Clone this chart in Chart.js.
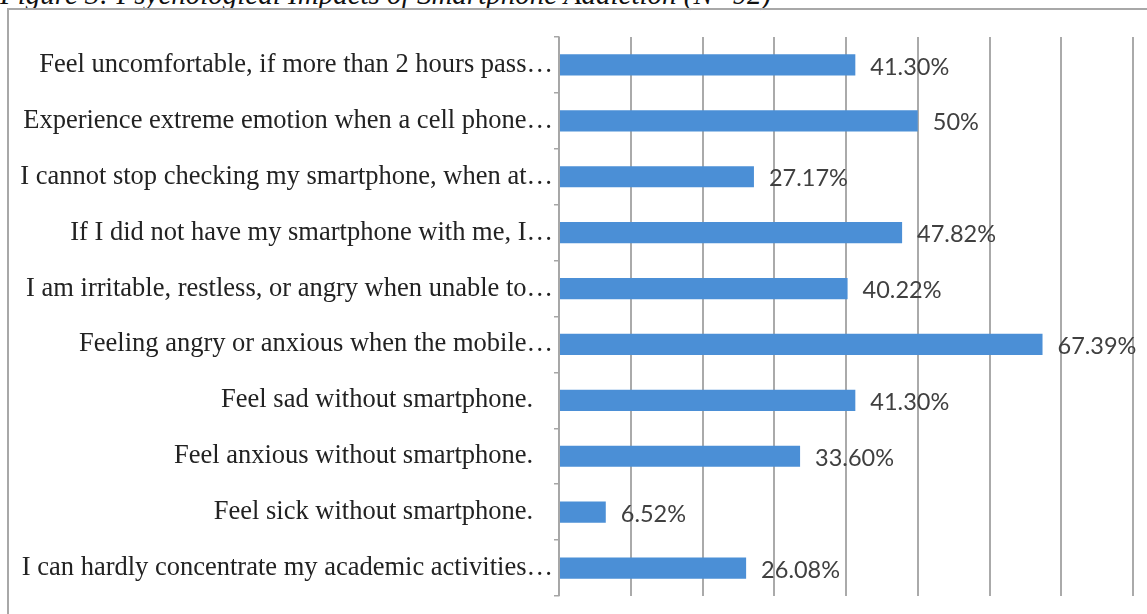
<!DOCTYPE html>
<html>
<head>
<meta charset="utf-8">
<script src="https://cdn.jsdelivr.net/npm/chart.js@4"></script>
<style>
  html, body { margin: 0; padding: 0; background: #fff; overflow: hidden; }
  #title {
    position: absolute; left: 0px; top: -20px;
    font: italic 29px/29px "Liberation Serif", "Times New Roman", serif;
    color: #111; white-space: nowrap;
  }
  #frame {
    position: absolute; left: 7px; top: 8px; width: 1160px; height: 700px;
    border: 2px solid #a8a8a8;
  }
  #chart { position: absolute; left: 0; top: 0; }
</style>
</head>
<body>
<div id="title">Figure 3: Psychological Impacts of Smartphone Addiction (N=92)</div>
<div id="frame"></div>
<canvas id="chart" width="1147" height="614"></canvas>
<script>
// statements as shown on the chart (Excel cut the long ones)
const categories = [
    "Feel uncomfortable, if more than 2 hours pass\u2026",
    "Experience extreme emotion when a cell phone\u2026",
    "I cannot stop checking my smartphone, when at\u2026",
    "If I did not have my smartphone with me, I\u2026",
    "I am irritable, restless, or angry when unable to\u2026",
    "Feeling angry or anxious when the mobile\u2026",
    "Feel sad without smartphone.",
    "Feel anxious without smartphone.",
    "Feel sick without smartphone.",
    "I can hardly concentrate my academic activities\u2026"
];
const percentages = [41.30, 50, 27.17, 47.82, 40.22, 67.39, 41.30, 33.60, 6.52, 26.08];
const percentLabels = ["41.30%", "50%", "27.17%", "47.82%", "40.22%", "67.39%", "41.30%", "33.60%", "6.52%", "26.08%"];
const axisMax = 80;
const axisStep = 10;

// draw the value text after each bar
const valueLabels = {
    id: 'valueLabels',
    afterDatasetsDraw(chart) {
        const ctx = chart.ctx;
        const meta = chart.getDatasetMeta(0);
        ctx.save();
        ctx.font = '23.5px Lato, "Open Sans", sans-serif';
        ctx.fillStyle = '#404040';
        ctx.textBaseline = 'middle';
        ctx.textAlign = 'left';
        meta.data.forEach((bar, i) => {
            ctx.fillText(percentLabels[i], bar.x + 15, bar.y + 2);
        });
        ctx.restore();
    }
};

const ctx = document.getElementById('chart').getContext('2d');
new Chart(ctx, {
    type: 'bar',
    data: {
        labels: categories,
        datasets: [{
            data: percentages,
            backgroundColor: '#4b8fd6',
            borderWidth: 0,
            categoryPercentage: 1,
            barPercentage: 0.38
        }]
    },
    plugins: [valueLabels],
    options: {
        indexAxis: 'y',
        responsive: false,
        animation: false,
        devicePixelRatio: 1,
        layout: { padding: { left: 0, top: 37, right: 14, bottom: 18 } },
        plugins: {
            legend: { display: false },
            tooltip: { enabled: false }
        },
        scales: {
            x: {
                min: 0,
                max: axisMax,
                ticks: { display: false, stepSize: axisStep },
                grid: { color: '#aaaaaa', lineWidth: 2, drawTicks: false },
                border: { display: false }
            },
            y: {
                afterFit: (scale) => { scale.width = 559; },
                ticks: {
                    color: '#222222',
                    padding: 1,
                    font: { family: '"Liberation Serif", "Times New Roman", serif', size: 26.5 },
                    callback: function (value) {
                        const label = this.getLabelForValue(value);
                        return label.endsWith('\u2026') ? label : label + '   ';
                    }
                },
                grid: { drawOnChartArea: false, tickLength: 5, color: '#a6a6a6', lineWidth: 1.5 },
                border: { color: '#a6a6a6', width: 1.5 }
            }
        }
    }
});
</script>
</body>
</html>
